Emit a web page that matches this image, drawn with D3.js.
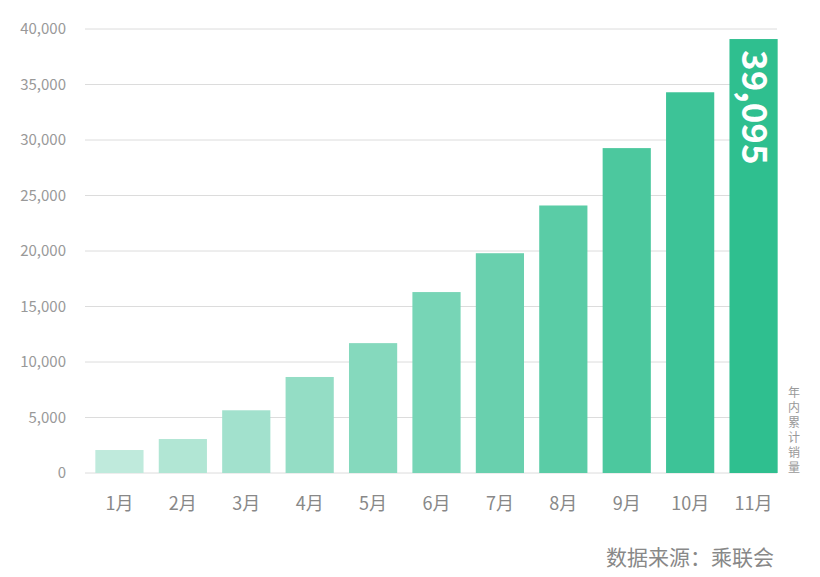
<!DOCTYPE html>
<html><head><meta charset="utf-8">
<script src="https://cdn.jsdelivr.net/npm/d3@7"></script>
<style>body{margin:0;background:#fff}</style></head>
<body><svg id="c" width="820" height="577"></svg>
<script>
const months = ["1月","2月","3月","4月","5月","6月","7月","8月","9月","10月","11月"];
const sales = [2070, 3060, 5650, 8650, 11700, 16300, 19800, 24100, 29270, 34300, 39095];
const yTicks = [0,5000,10000,15000,20000,25000,30000,35000,40000];
const font = "'Noto Sans CJK SC','Noto Sans',sans-serif";
const svg = d3.select("#c");
const x = d3.scaleBand().domain(months).range([89,784]).paddingInner(0.24).paddingOuter(0.1);
const y = d3.scaleLinear().domain([0,40000]).range([473,29]);
const color = d3.scaleLinear().domain([0,10]).range(["#bfeadc","#2fbf8f"]);
svg.append("g").selectAll("line").data(yTicks).join("line")
 .attr("x1",85).attr("x2",777).attr("y1",d=>y(d)).attr("y2",d=>y(d))
 .attr("stroke","#dcdcdc").attr("stroke-width",1);
svg.append("g").selectAll("text").data(yTicks).join("text")
 .attr("x",66).attr("y",d=>y(d)+5).attr("text-anchor","end")
 .attr("font-family",font).attr("font-size",15).attr("fill","#999")
 .text(d=>d3.format(",")(d));
svg.append("g").selectAll("rect").data(sales).join("rect")
 .attr("x",(d,i)=>x(months[i])).attr("width",x.bandwidth())
 .attr("y",d=>y(d)).attr("height",d=>y(0)-y(d)).attr("fill",(d,i)=>color(i));
svg.append("g").selectAll("text").data(months).join("text")
 .attr("x",d=>x(d)+x.bandwidth()/2).attr("y",510).attr("text-anchor","middle")
 .attr("font-family",font).attr("font-size",18).attr("fill","#888").text(d=>d);
const last = sales[sales.length-1];
svg.append("text")
 .attr("transform",`translate(${x(months[10])+x.bandwidth()/2-12},${y(last)+11}) rotate(90)`)
 .attr("font-family",font).attr("font-size",35).attr("font-weight","bold").attr("fill","#fff")
 .text(d3.format(",")(last));
const vl = "年内累计销量".split("");
svg.append("g").selectAll("text").data(vl).join("text")
 .attr("x",794).attr("y",(d,i)=>397+i*15).attr("text-anchor","middle")
 .attr("font-family",font).attr("font-size",12).attr("fill","#999").text(d=>d);
svg.append("text").attr("x",774).attr("y",565).attr("text-anchor","end")
 .attr("font-family",font).attr("font-size",21).attr("fill","#888").text("数据来源：乘联会");
</script></body></html>
